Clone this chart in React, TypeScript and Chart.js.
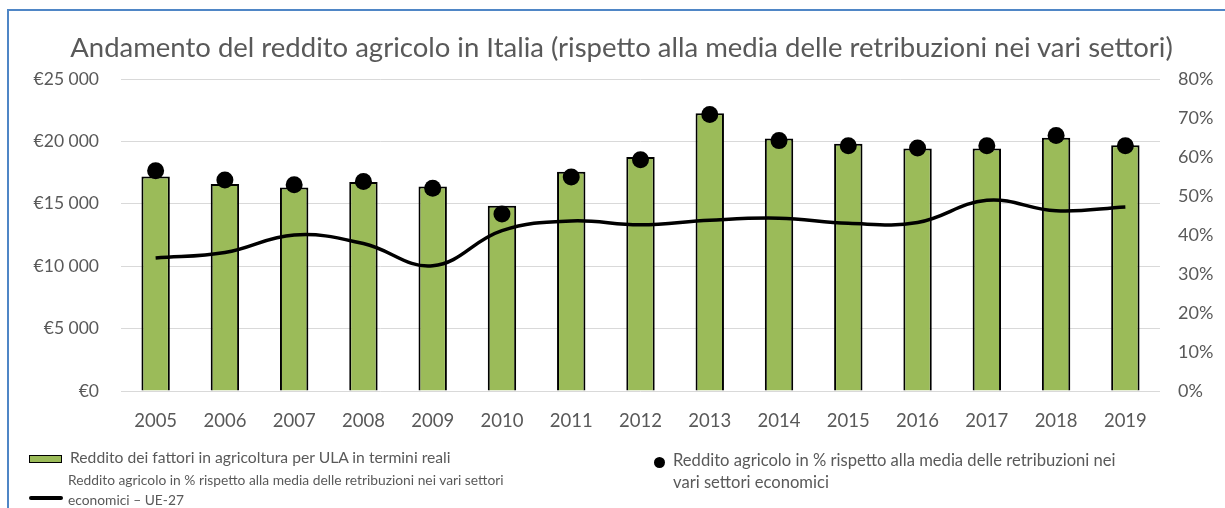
import React, { useEffect, useRef } from "react";
import { Chart, registerables } from "chart.js";

Chart.register(...registerables);

const years = ["2005", "2006", "2007", "2008", "2009", "2010", "2011", "2012", "2013", "2014", "2015", "2016", "2017", "2018", "2019"];
const redditoUla = [17190, 16580, 16310, 16740, 16390, 14840, 17560, 18740, 22250, 20240, 19810, 19440, 19440, 20290, 19700];
const redditoPctMedia = [56.5, 54.1, 52.9, 53.7, 52.0, 45.4, 54.9, 59.3, 70.9, 64.2, 62.9, 62.3, 62.9, 65.5, 62.9];
const redditoPctUe27 = [34.1, 35.5, 40.0, 37.8, 32.1, 41.1, 43.6, 42.6, 43.8, 44.3, 43.0, 43.2, 48.9, 46.2, 47.2];

const titleText = "Andamento del reddito agricolo in Italia (rispetto alla media delle retribuzioni nei vari settori)";
const legendBar = "Reddito dei fattori in agricoltura per ULA in termini reali";
const legendLine = ["Reddito agricolo in % rispetto alla media delle retribuzioni nei vari settori", "economici – UE-27"];
const legendDot = ["Reddito agricolo in % rispetto alla media delle retribuzioni nei", "vari settori economici"];

const FONT = "Lato, 'Open Sans', sans-serif";
const GRAY = "#595959";

function euro(v: number): string {
  if (v === 0) return "€0";
  const th = Math.floor(v / 1000);
  const rest = String(v % 1000).padStart(3, "0");
  return "€" + th + " " + rest;
}

function TextLine(props: { text: string; left: number; baseline: number; size: number }) {
  const { text, left, baseline, size } = props;
  return (
    <div
      style={{
        position: "absolute",
        left,
        top: baseline - 0.887 * size,
        fontFamily: FONT,
        fontSize: size,
        lineHeight: size + "px",
        color: GRAY,
        whiteSpace: "nowrap",
      }}
    >
      {text}
    </div>
  );
}

export default function App() {
  const canvasRef = useRef<HTMLCanvasElement | null>(null);

  useEffect(() => {
    let chart: Chart | null = null;
    let cancelled = false;
    const make = () => {
      if (cancelled || !canvasRef.current) return;
      chart = new Chart(canvasRef.current, {
        type: "bar",
        data: {
          labels: years,
          datasets: [
            {
              type: "line",
              label: legendDot.join(" "),
              data: redditoPctMedia,
              yAxisID: "y1",
              showLine: false,
              pointRadius: 8.5,
              pointBackgroundColor: "#000",
              pointBorderWidth: 0,
              borderColor: "#000",
              order: 1,
            },
            {
              type: "line",
              label: legendLine.join(" "),
              data: redditoPctUe27,
              yAxisID: "y1",
              borderColor: "#000",
              borderWidth: 3.5,
              tension: 0.4,
              pointRadius: 0,
              fill: false,
              order: 2,
            },
            {
              type: "bar",
              label: legendBar,
              data: redditoUla,
              yAxisID: "y",
              backgroundColor: "#9BBB59",
              borderColor: "#000",
              borderWidth: 2,
              barPercentage: 0.41,
              categoryPercentage: 1,
              order: 3,
            },
          ] as any,
        },
        options: {
          responsive: false,
          animation: false,
          devicePixelRatio: 1,
          layout: { padding: { top: 79, left: 0, right: 0, bottom: 0 } },
          plugins: {
            legend: { display: false },
            title: { display: false },
            tooltip: { enabled: false },
          },
          scales: {
            x: {
              grid: { display: false },
              border: { display: false },
              ticks: { color: GRAY, font: { family: FONT, size: 18.5 }, padding: 11, maxRotation: 0 },
              afterFit: (s: any) => {
                s.height = 117;
              },
            },
            y: {
              position: "left",
              min: 0,
              max: 25000,
              grid: { color: "#D9D9D9", lineWidth: 1, drawTicks: false },
              border: { display: false },
              ticks: {
                stepSize: 5000,
                color: GRAY,
                padding: 22,
                font: { family: FONT, size: 17.5 },
                callback: (v: any) => euro(Number(v)),
              },
              afterFit: (s: any) => {
                s.width = 121;
              },
            },
            y1: {
              position: "right",
              min: 0,
              max: 80,
              grid: { display: false, drawTicks: false },
              border: { display: false },
              ticks: {
                stepSize: 10,
                color: GRAY,
                padding: 18,
                font: { family: FONT, size: 18 },
                callback: (v: any) => v + "%",
              },
              afterFit: (s: any) => {
                s.width = 65;
              },
            },
          },
        } as any,
      });
    };
    const fonts = (document as any).fonts;
    if (fonts && fonts.load) {
      Promise.all([fonts.load("17px Lato"), fonts.load("24px Lato")]).then(make, make);
    } else {
      make();
    }
    return () => {
      cancelled = true;
      if (chart) chart.destroy();
    };
  }, []);

  return (
    <div style={{ position: "fixed", left: 0, top: 0, width: 1225, height: 508, background: "#fff", overflow: "hidden" }}>
      <canvas ref={canvasRef} width={1225} height={508} style={{ position: "absolute", left: 0, top: 0, display: "block" }} />
      <div
        style={{
          position: "absolute",
          left: 7,
          top: 9,
          width: 1230,
          height: 520,
          borderLeft: "2px solid #4F86C6",
          borderTop: "2px solid #4F86C6",
          pointerEvents: "none",
        }}
      />
      <div
        style={{
          position: "absolute",
          left: 0,
          width: 1243,
          top: 57 - 0.887 * 27.5,
          textAlign: "center",
          fontFamily: FONT,
          fontSize: 27.5,
          lineHeight: "27.5px",
          color: GRAY,
          whiteSpace: "nowrap",
        }}
      >
        {titleText}
      </div>
      {/* legend: bar */}
      <div
        style={{
          position: "absolute",
          left: 29,
          top: 455,
          width: 31,
          height: 6,
          background: "#9BBB59",
          border: "1.5px solid #000",
        }}
      />
      <TextLine text={legendBar} left={70} baseline={463.5} size={15.7} />
      {/* legend: line */}
      <div style={{ position: "absolute", left: 29, top: 496, width: 34, height: 4, background: "#000", borderRadius: 2 }} />
      <TextLine text={legendLine[0]} left={68} baseline={485} size={13.8} />
      <TextLine text={legendLine[1]} left={68} baseline={505.5} size={13.8} />
      {/* legend: dot */}
      <div style={{ position: "absolute", left: 653.5, top: 456.5, width: 11, height: 11, background: "#000", borderRadius: "50%" }} />
      <TextLine text={legendDot[0]} left={673} baseline={466.7} size={16.6} />
      <TextLine text={legendDot[1]} left={673} baseline={488.5} size={16.6} />
    </div>
  );
}
